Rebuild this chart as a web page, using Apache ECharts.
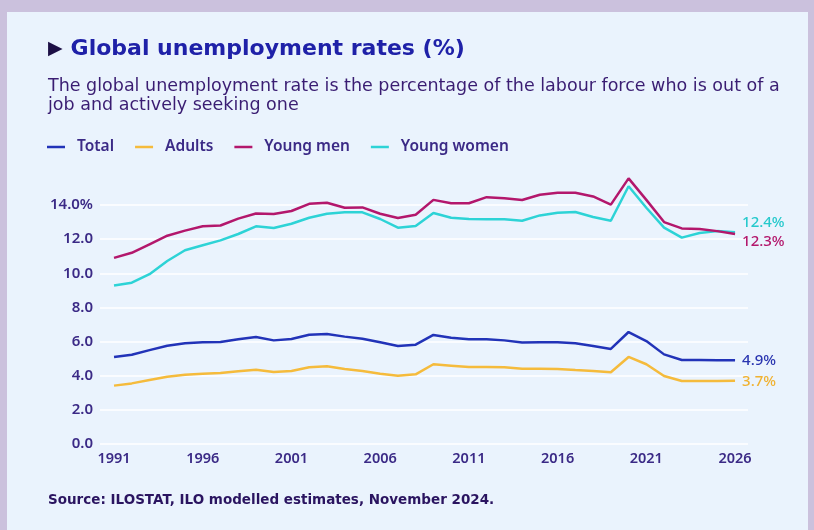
<!DOCTYPE html>
<html>
<head>
<meta charset="utf-8">
<script src="https://cdn.jsdelivr.net/npm/echarts@6/dist/echarts.min.js"></script>
<style>html,body{margin:0;padding:0;background:#cbc1dd;}#c{width:814px;height:530px;}</style>
</head>
<body>
<div id="c"></div>
<script>
const years = [];
for (let y = 1991; y <= 2026; y++) years.push(y);
const xTicks = [1991, 1996, 2001, 2006, 2011, 2016, 2021, 2026];
const yTicks = [0, 2, 4, 6, 8, 10, 12, 14];
const total = [5.10,5.23,5.50,5.76,5.90,5.96,5.98,6.13,6.27,6.07,6.15,6.40,6.44,6.29,6.17,5.96,5.74,5.82,6.39,6.23,6.13,6.13,6.07,5.94,5.96,5.96,5.90,5.74,5.57,6.56,6.03,5.25,4.92,4.92,4.90,4.90];
const adults = [3.42,3.55,3.75,3.94,4.06,4.12,4.16,4.26,4.35,4.22,4.28,4.49,4.55,4.39,4.28,4.12,4.00,4.08,4.67,4.59,4.51,4.51,4.49,4.41,4.41,4.39,4.33,4.28,4.20,5.10,4.67,3.98,3.69,3.69,3.69,3.70];
const youngMen = [10.9,11.2,11.7,12.2,12.5,12.75,12.8,13.2,13.5,13.47,13.65,14.07,14.13,13.84,13.86,13.49,13.24,13.43,14.3,14.1,14.1,14.46,14.4,14.29,14.6,14.72,14.72,14.5,14.02,15.56,14.3,13.0,12.63,12.6,12.47,12.3];
const youngWomen = [9.28,9.45,9.95,10.72,11.35,11.64,11.93,12.3,12.75,12.65,12.9,13.25,13.49,13.57,13.57,13.18,12.67,12.77,13.53,13.25,13.18,13.16,13.16,13.08,13.39,13.55,13.59,13.3,13.08,15.1,13.84,12.67,12.09,12.36,12.47,12.4];

const seriesNames = ['Total', 'Adults', 'Young men', 'Young women'];
const seriesColors = ['#2233b8', '#f5bb3c', '#b3176c', '#2dd3d6'];
const labelColors = ['#2a35b0', '#f0b232', '#b3176c', '#26c9cc'];
const seriesData = [total, adults, youngMen, youngWomen];
const labelOffsets = [[0, 0], [0, 1], [0, 8], [0, -10]];

const FONT = 'Noto Sans';
const TXT = '#3b2a86';

const chart = echarts.init(document.getElementById('c'), null, {renderer: 'canvas'});
chart.setOption({
  animation: false,
  backgroundColor: '#cbc1dd',
  graphic: [
    {type: 'rect', left: 7, top: 12, shape: {width: 801, height: 518}, style: {fill: '#eaf3fd'}, z: -10}
  ],
  title: [
    {
      left: 43, top: 33, padding: 5,
      text: '{tri|▶}{t|Global unemployment rates (%)}',
      textStyle: {
        rich: {
          tri: {fontSize: 19, color: '#1c0f45', fontFamily: 'DejaVu Sans', padding: [0, 8, 0, 0]},
          t: {fontSize: 22, fontWeight: 'bold', color: '#1f21a8', fontFamily: 'DejaVu Sans'}
        }
      }
    },
    {
      left: 43, top: 72, padding: 5,
      text: 'The global unemployment rate is the percentage of the labour force who is out of a\njob and actively seeking one',
      textStyle: {fontSize: 17.5, fontWeight: 'normal', color: '#3a1d72', fontFamily: 'DejaVu Sans', lineHeight: 19}
    },
    {
      left: 43, top: 488, padding: 5,
      text: '{b|Source:} ILOSTAT, ILO modelled estimates, November 2024.',
      textStyle: {
        fontSize: 13.5, color: '#2a1460', fontFamily: 'DejaVu Sans',
        rich: {b: {fontSize: 13.5, fontWeight: 'bold', color: '#2a1460', fontFamily: 'DejaVu Sans'}}
      }
    }
  ],
  legend: {
    left: 42, top: 134,
    icon: 'rect', itemWidth: 18, itemHeight: 2.5, itemGap: 21,
    textStyle: {fontSize: 15.5, fontWeight: 600, color: TXT, fontFamily: FONT, padding: [0, 0, 0, 7]},
    data: seriesNames
  },
  grid: {left: 100, right: 66, top: 205, bottom: 86, containLabel: false},
  xAxis: {
    type: 'value', min: 1990.21, max: 2026.73,
    axisLine: {show: false}, axisTick: {show: false}, splitLine: {show: false},
    axisLabel: {
      customValues: xTicks, showMinLabel: true, showMaxLabel: true,
      fontSize: 14.5, fontWeight: 600, color: TXT, fontFamily: FONT, margin: 7,
      formatter: v => String(v)
    }
  },
  yAxis: {
    type: 'value', min: 0, max: 14, interval: 2,
    axisLine: {show: false}, axisTick: {show: false},
    splitLine: {show: true, lineStyle: {color: '#ffffff', width: 1.5}},
    axisLabel: {
      fontSize: 15, fontWeight: 600, color: TXT, fontFamily: FONT, margin: 7,
      formatter: v => v === 14 ? '14.0%' : v.toFixed(1)
    }
  },
  series: seriesNames.map((name, i) => ({
    name: name,
    type: 'line',
    data: years.map((y, j) => [y, seriesData[i][j]]),
    showSymbol: false, symbol: 'none',
    clip: false,
    z: i === 3 ? 3 : (i === 2 ? 4 : 2),
    lineStyle: {color: seriesColors[i], width: 2.5},
    itemStyle: {color: seriesColors[i]},
    endLabel: {
      show: true, distance: 7, offset: labelOffsets[i],
      formatter: p => p.value[1].toFixed(1) + '%',
      color: labelColors[i],
      fontSize: 15, fontWeight: 500, fontFamily: FONT
    }
  }))
});
</script>
</body>
</html>
